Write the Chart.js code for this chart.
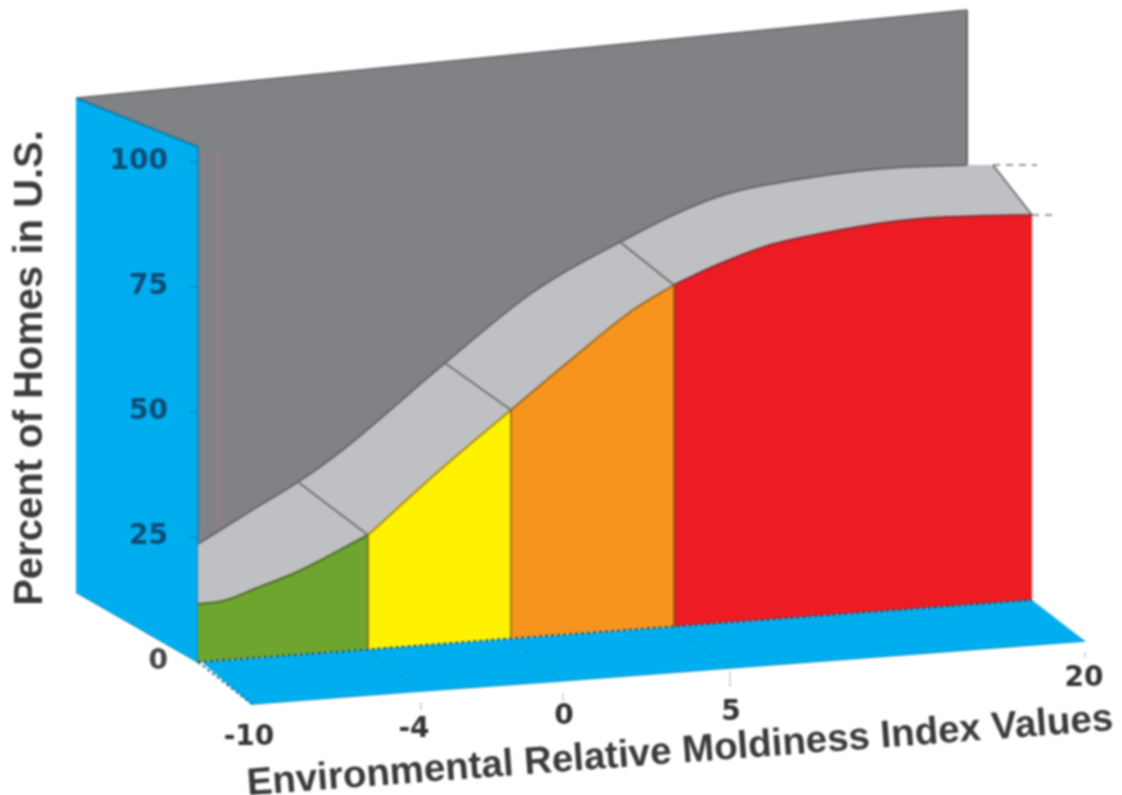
<!DOCTYPE html>
<html><head><meta charset="utf-8">
<style>html,body{margin:0;padding:0;background:#fff}canvas{display:block;filter:blur(0.9px)}</style>
<script src="https://cdn.jsdelivr.net/npm/chart.js@4"></script>
</head><body><canvas id="c" width="1122" height="795"></canvas>
<script>
// x = position along the drawing plane, y = percent of homes
const yTickValues = [0, 25, 50, 75, 100];
const xTickLabels = ['-10', '-4', '0', '5', '20'];
const xAxisTitle = 'Environmental Relative Moldiness Index Values';
const yAxisTitle = 'Percent of Homes in U.S.';

const upperX = [198,257,298,340,445,533,620,717,813,890,967];
const upperY = [23.6,31,36,42,59.8,74,84,93,97,98.8,99.4];
const ribbonEndX = [967,993,1032];
const ribbonEndY = [99.4,99.4,89.4];
const ribbonEndLowX = [967,1032];
const ribbonEndLowY = [85,85];

const greenX = [198,223,257,297,368];
const greenY = [11.6,12.2,14.8,18,25.4];
const yellowX = [368,440,511];
const yellowY = [25.4,38.4,50.4];
const orangeX = [511,567,633,674];
const orangeY = [50.4,59.8,70.4,75.4];
const redX = [674,717,767,830,890,930,980,1032];
const redY = [75.4,79.4,83.2,86,88,88.8,89.2,89.4];
const ribbonTailX = [967];
const ribbonTailY = [89.1];

const baseX = [198,368,511,674,1032];
const baseY = [0,2.5,4.7,7.1,12.4];

const wallTopX = [77,967];
const wallTopY = [112.8,130.4];
const wallBottomX = [77,198,967];
const wallBottomY = [20,15,85];
const wallRightX = [967,967];
const wallRightY = [130.4,99.4];
const tintX = [214,223];
const tintTopY = [102,102];
const tintBottomY = [25.5,27.4];
const sideTopX = [76,198];
const sideTopY = [112.8,103];
const sideBottomX = [76,198];
const sideBottomY = [14,0];
const sideInnerX = [198,198];
const sideInnerY = [103,0];
const floorBackX = [203,1032,1085];
const floorBackY = [0,12.4,4.2];
const floorFrontX = [203,252,421,560,730,1085];
const floorFrontY = [0,-8.4,-5.8,-3.8,-1.2,4.2];
const floorLeftX = [198,252];
const floorLeftY = [0,-8.4];

const dividerX = [298,368,null,445,511,null,620,674,null,993,1032];
const dividerY = [36,25.4,null,59.8,50.4,null,84,75.4,null,99.4,89.4];
const bandEdgeX = [368,368,null,511,511,null,674,674];
const bandEdgeY = [25.4,2.5,null,50.4,4.7,null,75.4,7.1];
const floorGridX = [368,421,null,511,560,null,674,730];
const floorGridY = [2.5,-5.8,null,4.7,-3.8,null,7.1,-1.2];
const guideX = [993,1037,null,1032,1057];
const guideY = [99.4,99.4,null,89.4,89.4];
const xTickMarkX = [421,421,null,563,563,null,730,730,null,1085,1085];
const xTickMarkY = [-8.2,-9.4,null,-6.4,-7.8,null,-2,-5,null,1.8,0.8];
const yTickMarkX = [190,197,null,190,197,null,190,197,null,190,197];
const yTickMarkY = [25,25,null,50,50,null,75,75,null,100,100];

const zip = (xs, ys) => xs.map((x, i) => ({x, y: ys[i]}));
const concat = (a, b) => a.concat(b.slice(1));

const colors = {blue:'#00AEEF', gray:'#808285', ribbon:'#BEC0C4', green:'#6EA52E', yellow:'#FFF200',
  orange:'#F7941D', red:'#ED1C24', edge:'#58595B', dotted:'#17506E'};
const smooth = {cubicInterpolationMode:'monotone'};

const defs = [];
function add(name, xs, ys, o) { defs.push(Object.assign({label:name, data:zip(xs,ys), showLine:true, pointRadius:0,
  borderWidth:0, borderColor:'transparent', fill:false, spanGaps:false, clip:false}, o||{})); return defs.length-1; }
function area(name, topX, topY, botX, botY, color, o) {
  const b = add(name+' lower', botX, botY, Object.assign({}, o&&o.bot));
  add(name, topX, topY, Object.assign({fill:{target:b}, backgroundColor:color}, o&&o.top));
}

const ribbonLowX = concat(concat(greenX, yellowX), orangeX).concat(redX.slice(1,6)).concat(ribbonTailX);
const ribbonLowY = concat(concat(greenY, yellowY), orangeY).concat(redY.slice(1,6)).concat(ribbonTailY);

// back wall
area('Back wall', wallTopX, wallTopY, wallBottomX, wallBottomY, colors.gray,
  {top:{borderWidth:1.5, borderColor:'#636466'}});
add('Back wall edge', wallRightX, wallRightY, {borderWidth:2, borderColor:'#636466'});
area('Wall tint', tintX, tintTopY, tintX, tintBottomY, '#8A8087');
// side wall
area('Side wall', sideTopX, sideTopY, sideBottomX, sideBottomY, colors.blue,
  {top:{borderWidth:2, borderColor:'#0E7FA9'}, bot:{borderWidth:1.5, borderColor:'#0E7FA9'}});
add('Side wall inner', sideInnerX, sideInnerY, {borderWidth:1.5, borderColor:'#0E84B0'});
// floor
area('Floor', floorBackX, floorBackY, floorFrontX, floorFrontY, colors.blue,
  {bot:{borderWidth:1.5, borderColor:'#0E86B4'}});
add('Floor left', floorLeftX, floorLeftY, {borderWidth:2, borderColor:'#0F6E93', borderDash:[3,3]});
add('Floor grid', floorGridX, floorGridY, {borderWidth:1, borderColor:'#0A7FAD', borderDash:[3,3]});
// ribbon
area('Ribbon', upperX, upperY, ribbonLowX, ribbonLowY, colors.ribbon,
  {top:Object.assign({borderWidth:2, borderColor:'#636567'}, smooth), bot:smooth});
area('Ribbon end', ribbonEndX, ribbonEndY, ribbonEndLowX, ribbonEndLowY, colors.ribbon);
add('Ribbon dividers', dividerX, dividerY, {borderWidth:2, borderColor:'#6f7174'});
// risk bands
const bands = [['Green',greenX,greenY,0,1,colors.green,'#4F6B2A'],['Yellow',yellowX,yellowY,1,2,colors.yellow,'#A98A1E'],
  ['Orange',orangeX,orangeY,2,3,colors.orange,'#9A6A22'],['Red',redX,redY,3,4,colors.red,'#8B2A30']];
bands.forEach(b => {
  area(b[0], b[1], b[2], [baseX[b[3]], baseX[b[4]]], [baseY[b[3]], baseY[b[4]]], b[5],
    {top:Object.assign({borderWidth:2, borderColor:b[6]}, smooth)});
});
add('Band edges', bandEdgeX, bandEdgeY, {borderWidth:2, borderColor:'rgba(120,90,20,0.7)'});
add('Base line', baseX, baseY, {borderWidth:2, borderColor:colors.dotted, borderDash:[3,3]});
add('Guides', guideX, guideY, {borderWidth:1.5, borderColor:'#77787b', borderDash:[7,6]});
add('X tick marks', xTickMarkX, xTickMarkY, {borderWidth:1.5, borderColor:'#9a9c9e', borderDash:[2,2]});
add('Y tick marks', yTickMarkX, yTickMarkY, {borderWidth:1.5, borderColor:'#1f5f86', borderDash:[2,2]});
defs.forEach((d, i) => { d.order = defs.length - i; });

const textPlugin = {
  id: 'textPlugin',
  afterDraw(chart) {
    const {ctx} = chart;
    const put = (s, x, y, font, color, rot) => {
      ctx.save(); ctx.translate(x, y); ctx.rotate(rot||0);
      ctx.font = font; ctx.fillStyle = color; ctx.textAlign = 'center'; ctx.textBaseline = 'middle';
      ctx.fillText(s, 0, 0); ctx.restore();
    };
    const sx = chart.scales.x, sy = chart.scales.y;
    const tickFont = 'bold 28px "DejaVu Sans"';
    const xTickAt = [[249,-15.2],[414,-13.6],[564,-11],[731,-10.2],[1084,-3.4]];
    xTickLabels.forEach((t, i) => put(t, sx.getPixelForValue(xTickAt[i][0]), sy.getPixelForValue(xTickAt[i][1]), tickFont, '#333'));
    put(yAxisTitle, sx.getPixelForValue(31), sy.getPixelForValue(58.8), 'bold 40px "Liberation Sans"', '#3a3a3c', -Math.PI/2);
    put(xAxisTitle, sx.getPixelForValue(680), sy.getPixelForValue(-18), 'bold 38.5px "Liberation Sans"', '#3a3a3c', -4.3*Math.PI/180);
  }
};

new Chart(document.getElementById('c'), {
  type: 'scatter',
  data: {datasets: defs},
  plugins: [textPlugin],
  options: {
    responsive: false, animation: false, events: [],
    layout: {padding: 0, autoPadding: false},
    plugins: {legend: {display: false}, tooltip: {enabled: false}, title: {display: false}},
    scales: {
      x: {type: 'linear', min: 0, max: 1122, display: false},
      y: {type: 'linear', min: -25.2, max: 131, position: {x: 168},
        afterBuildTicks(a) { a.ticks = yTickValues.map(value => ({value})); },
        border: {display: false},
        grid: {drawOnChartArea: false, drawTicks: false},
        ticks: {padding: 0, z: 1, font: {family: '"DejaVu Sans"', weight: 'bold', size: 28, lineHeight: 0.5},
          color: c => c.tick && c.tick.value === 0 ? '#444' : '#0F4C75', callback: v => String(v), autoSkip: false}
      }
    }
  }
});
</script></body></html>
